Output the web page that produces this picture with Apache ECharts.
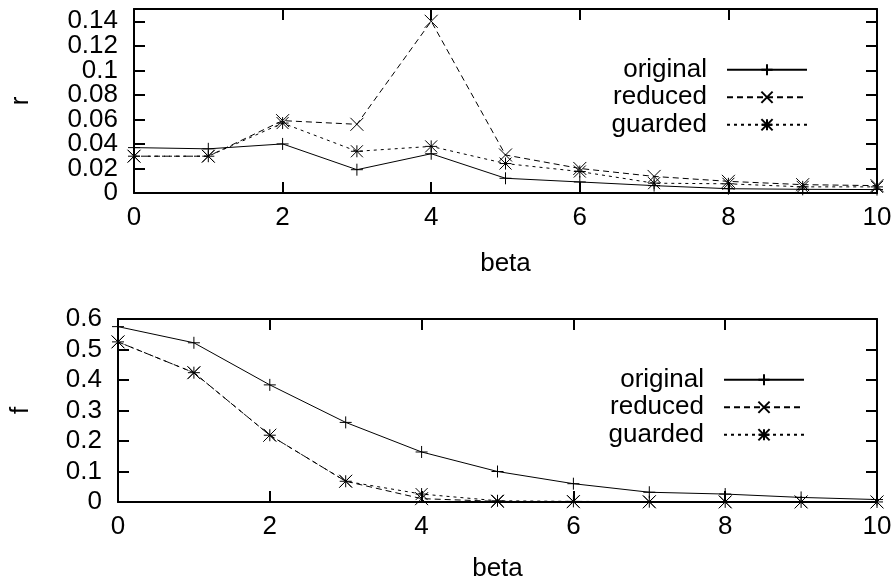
<!DOCTYPE html>
<html>
<head>
<meta charset="utf-8">
<script src="https://cdn.jsdelivr.net/npm/echarts@6/dist/echarts.min.js"></script>
<style>
  html, body { margin: 0; padding: 0; background: #fff; }
  #chart { width: 896px; height: 585px; }
</style>
</head>
<body>
<div id="chart"></div>
<script>
// beta values shared by both panels
const beta = [0, 1, 2, 3, 4, 5, 6, 7, 8, 9, 10];

// top panel: r
const rOriginal = [0.037, 0.036, 0.040, 0.019, 0.032, 0.012, 0.009, 0.006, 0.0035, 0.003, 0.0028];
const rReduced  = [0.030, 0.030, 0.059, 0.056, 0.140, 0.031, 0.020, 0.0135, 0.0095, 0.0068, 0.006];
const rGuarded  = [0.030, 0.030, 0.057, 0.034, 0.038, 0.024, 0.0175, 0.008, 0.0075, 0.005, 0.005];

// bottom panel: f
const fOriginal = [0.575, 0.522, 0.384, 0.261, 0.164, 0.100, 0.060, 0.032, 0.026, 0.015, 0.008];
const fReduced  = [0.525, 0.424, 0.219, 0.068, 0.011, 0.002, 0.001, 0.0005, 0.0003, 0.0002, 0.0001];
const fGuarded  = [0.525, 0.424, 0.219, 0.068, 0.026, 0.004, 0.002, 0.001, 0.0005, 0.0003, 0.0002];

const seriesNames = ['original', 'reduced', 'guarded'];

const FONT = 'Liberation Sans, Arial, Helvetica, sans-serif';
const FONT_SIZE = 26;
const symPlus = 'path://M5,0L5,10M0,5L10,5';
const symCross = 'path://M0,0L10,10M0,10L10,0';
const symStar = 'path://M5,0L5,10M0,5L10,5M0,0L10,10M0,10L10,0';

const lineTypes = ['solid', [6, 4], [3, 4]];
const symbols = [symPlus, symCross, symStar];
const symbolSizes = [12, 13, 12];

function pairs (ys) {
    return beta.map(function (b, i) { return [b, ys[i]] })
}

function makeSeries (idx, grid, ys) {
    return {
        name: seriesNames[idx],
        type: 'line',
        xAxisIndex: grid * 2,
        yAxisIndex: grid * 2,
        data: pairs(ys),
        symbol: symbols[idx],
        symbolSize: symbolSizes[idx],
        showAllSymbol: true,
        lineStyle: { color: '#000', width: 1, type: lineTypes[idx] },
        itemStyle: { color: '#000', borderColor: '#000', borderWidth: 1 },
        z: 3 + idx
    }
}

function xAxes (grid) {
    const base = {
        type: 'value', gridIndex: grid, min: 0, max: 10, interval: 2,
        axisLine: { show: true, onZero: false, lineStyle: { color: '#000', width: 2 } },
        axisTick: { show: true, inside: true, length: 11, lineStyle: { color: '#000', width: 2 } },
        splitLine: { show: false }
    }
    return [
        Object.assign({}, base, {
            position: 'bottom',
            name: 'beta',
            nameLocation: 'middle',
            nameGap: grid === 0 ? 58 : 54,
            nameTextStyle: { color: '#000', fontSize: FONT_SIZE, fontFamily: FONT },
            axisLabel: { color: '#000', fontSize: FONT_SIZE, fontFamily: FONT, margin: 12 }
        }),
        Object.assign({}, base, { position: 'top', axisLabel: { show: false } })
    ]
}

function yAxes (grid, max, interval, name, gap, showMin) {
    const base = {
        type: 'value', gridIndex: grid, min: 0, max: max, interval: interval,
        axisLine: { show: true, onZero: false, lineStyle: { color: '#000', width: 2 } },
        axisTick: { show: true, inside: true, length: 11, lineStyle: { color: '#000', width: 2 } },
        splitLine: { show: false }
    }
    return [
        Object.assign({}, base, {
            position: 'left',
            name: name,
            nameLocation: 'middle',
            nameRotate: 90,
            nameGap: gap,
            nameTextStyle: { color: '#000', fontSize: FONT_SIZE, fontFamily: FONT },
            axisLabel: {
                color: '#000', fontSize: FONT_SIZE, fontFamily: FONT, margin: 16,
                showMinLabel: showMin, showMaxLabel: max === 0.6
            }
        }),
        Object.assign({}, base, { position: 'right', axisLabel: { show: false } })
    ]
}

// the top panel's "0" label sits too close to "0.02" for ECharts' overlap check,
// so it is drawn by a bare extra axis on the same scale
const zeroLabelAxis = {
    type: 'value', gridIndex: 0, position: 'left', min: 0, max: 0.15, interval: 0.15,
    axisLine: { show: false }, axisTick: { show: false }, splitLine: { show: false },
    axisLabel: { color: '#000', fontSize: FONT_SIZE, fontFamily: FONT, margin: 16, showMaxLabel: false }
}

function legendAt (top, right) {
    return {
        data: seriesNames,
        orient: 'vertical',
        align: 'right',
        top: top,
        right: right,
        padding: 0,
        itemGap: 0,
        itemWidth: 80,
        itemHeight: 14,
        selectedMode: false,
        textStyle: {
            color: '#000', fontSize: FONT_SIZE, fontFamily: FONT,
            lineHeight: 27.5, padding: [0, 15, 0, 0]
        }
    }
}

const chart = echarts.init(document.getElementById('chart'))
chart.setOption({
    animation: false,
    backgroundColor: '#fff',
    grid: [
        { left: 134, right: 19, top: 9, bottom: 392 },
        { left: 117, right: 19, top: 319, bottom: 83 }
    ],
    legend: [legendAt(56, 88), legendAt(366, 91)],
    xAxis: xAxes(0).concat(xAxes(1)),
    yAxis: yAxes(0, 0.15, 0.02, 'r', 100, false)
        .concat(yAxes(1, 0.6, 0.1, 'f', 84, true))
        .concat([zeroLabelAxis]),
    series: [
        makeSeries(0, 0, rOriginal),
        makeSeries(1, 0, rReduced),
        makeSeries(2, 0, rGuarded),
        makeSeries(0, 1, fOriginal),
        makeSeries(1, 1, fReduced),
        makeSeries(2, 1, fGuarded)
    ]
})
</script>
</body>
</html>
